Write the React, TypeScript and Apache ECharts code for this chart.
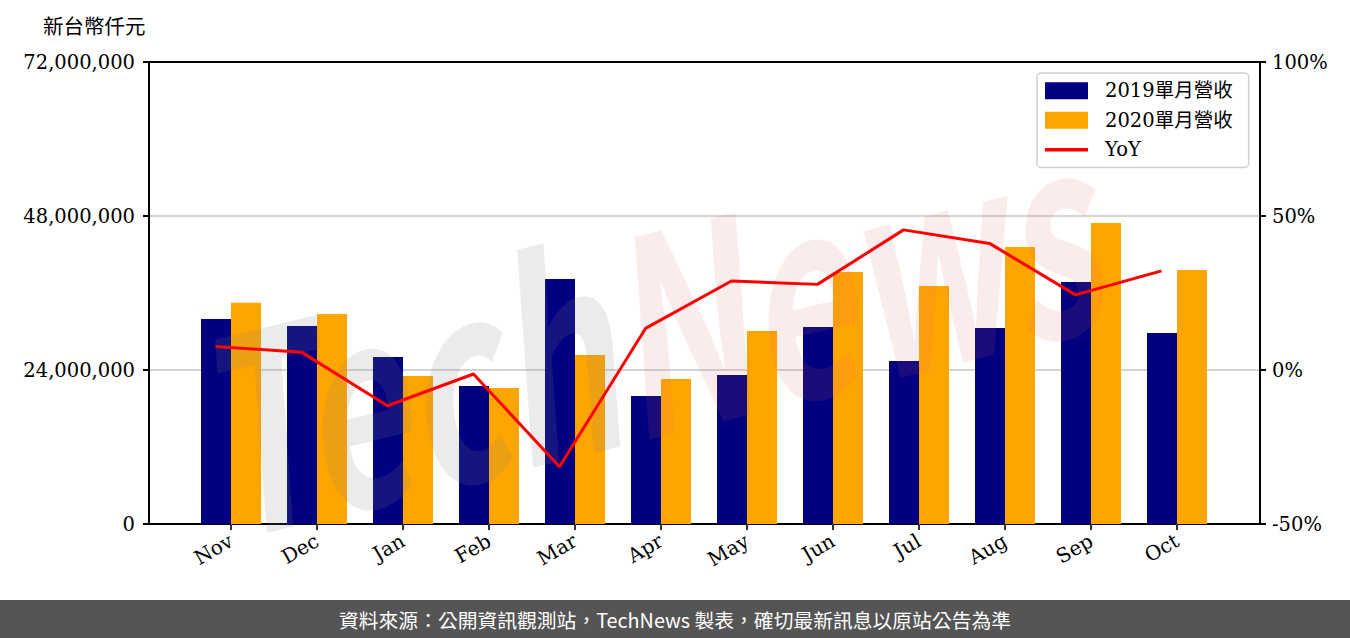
import React, { useEffect, useRef } from "react";
import * as echarts from "echarts";

const categories = ["Nov", "Dec", "Jan", "Feb", "Mar", "Apr", "May", "Jun", "Jul", "Aug", "Sep", "Oct"];
const revenue2019 = [31950000, 30860000, 26030000, 21510000, 38180000, 19950000, 23220000, 30700000, 25400000, 30550000, 37710000, 29770000];
const revenue2020 = [34490000, 32730000, 23060000, 21190000, 26340000, 22600000, 30080000, 39270000, 37090000, 43170000, 46910000, 39580000];
const yoyPercent = [7.6, 5.8, -11.6, -1.3, -31.4, 13.5, 28.9, 27.8, 45.5, 41.1, 24.4, 32.2];
const seriesNames = ["2019單月營收", "2020單月營收", "YoY"];
const unitLabel = "新台幣仟元";
const footerText = "資料來源：公開資訊觀測站，TechNews 製表，確切最新訊息以原站公告為準";

const SERIF = "'DejaVu Serif', 'Noto Sans CJK TC', serif";
const SANS = "'Noto Sans CJK TC', 'Noto Sans', sans-serif";

function fmtThousands(v: number): string {
  return Math.round(v).toString().replace(/\B(?=(\d{3})+(?!\d))/g, ",");
}

export default function App() {
  const ref = useRef<HTMLDivElement>(null);
  useEffect(() => {
    if (!ref.current) return;
    const chart = echarts.init(ref.current, null, { renderer: "svg" });
    const frameLine = { show: true, onZero: false, lineStyle: { color: "#000", width: 2 } };
    chart.setOption({
      animation: false,
      backgroundColor: "#ffffff",
      grid: [
        { left: 149, top: 62, width: 1111, height: 462 },
        { left: 188, top: 62, width: 1032, height: 462 },
        { left: 172.5, top: 62, width: 1032, height: 462 },
      ],
      legend: {
        data: [
          { name: seriesNames[0], icon: "rect" },
          { name: seriesNames[1], icon: "rect" },
          { name: seriesNames[2], icon: "path://M0,0 L43,0 L43,3.5 L0,3.5 Z" },
        ],
        orient: "vertical",
        left: 1037,
        top: 73,
        padding: [8, 16, 8, 8],
        itemWidth: 43,
        itemHeight: 17,
        itemGap: 10,
        backgroundColor: "#ffffff",
        borderColor: "#d0d0d0",
        borderWidth: 1.5,
        borderRadius: 4,
        textStyle: { fontFamily: SERIF, fontSize: 19.5, color: "#000", padding: [0, 0, 0, 12] },
      },
      xAxis: [
        {
          gridIndex: 0, type: "value", min: 0, max: 1, position: "bottom",
          axisLine: frameLine,
          axisTick: { show: false }, axisLabel: { show: false }, splitLine: { show: false },
        },
        {
          gridIndex: 0, type: "value", min: 0, max: 1, position: "top",
          axisLine: frameLine,
          axisTick: { show: false }, axisLabel: { show: false }, splitLine: { show: false },
        },
        {
          gridIndex: 1, type: "category", data: categories, position: "bottom",
          axisLine: { show: false },
          axisTick: { show: true, alignWithLabel: true, length: 6, lineStyle: { color: "#333", width: 2 } },
          axisLabel: { rotate: 30, fontFamily: SERIF, fontSize: 20, color: "#000", margin: 15 },
          splitLine: { show: false },
        },
        {
          gridIndex: 2, type: "category", data: categories, show: false,
        },
      ],
      yAxis: [
        {
          gridIndex: 0, type: "value", position: "left", min: 0, max: 72000000, interval: 24000000,
          axisLine: frameLine,
          axisTick: { show: true, length: 6, lineStyle: { color: "#000", width: 2 } },
          axisLabel: { fontFamily: SERIF, fontSize: 19.5, color: "#000", margin: 14, formatter: (v: number) => fmtThousands(v) },
          splitLine: { show: true, lineStyle: { color: "#d4d4d4", width: 2 } },
        },
        {
          gridIndex: 0, type: "value", position: "right", min: -50, max: 100, interval: 50,
          axisLine: frameLine,
          axisTick: { show: true, length: 6, lineStyle: { color: "#000", width: 2 } },
          axisLabel: { fontFamily: SERIF, fontSize: 19.5, color: "#000", margin: 12, formatter: "{value}%" },
          splitLine: { show: false },
        },
        { gridIndex: 1, type: "value", min: 0, max: 72000000, show: false },
        { gridIndex: 2, type: "value", min: -50, max: 100, show: false },
      ],
      series: [
        {
          name: seriesNames[0], type: "bar", xAxisIndex: 2, yAxisIndex: 2,
          data: revenue2019, barWidth: 30, barGap: "0%", z: 1,
          itemStyle: { color: "#000080" },
        },
        {
          name: seriesNames[1], type: "bar", xAxisIndex: 2, yAxisIndex: 2,
          data: revenue2020, barWidth: 30, barGap: "0%", z: 1,
          itemStyle: { color: "#ffa500" },
        },
        {
          name: seriesNames[2], type: "line", xAxisIndex: 3, yAxisIndex: 3,
          data: yoyPercent, symbol: "none", z: 5,
          lineStyle: { color: "#ff0000", width: 3 },
          itemStyle: { color: "#ff0000" },
        },
      ],
      graphic: [
        {
          type: "text", left: 43, top: 15, z: 10,
          style: { text: unitLabel, fontFamily: SANS, fontSize: 20.5, fill: "#000" },
        },
        {
          type: "text", x: 640, y: 320, rotation: 0.24, scaleX: 0.68, scaleY: 1, z: 3, silent: true,
          style: {
            text: "{a|Tech}{b|News}",
            rich: {
              a: { fontFamily: SANS, fontSize: 270, fontStyle: "italic", fontWeight: "bold", fill: "rgba(130,130,130,0.16)" },
              b: { fontFamily: SANS, fontSize: 270, fontStyle: "italic", fontWeight: "bold", fill: "rgba(220,100,100,0.12)" },
            },
            align: "center", verticalAlign: "middle",
          },
        },
        {
          type: "rect", left: 0, top: 600, z: 10,
          shape: { width: 1350, height: 38 },
          style: { fill: "#555555" },
        },
        {
          type: "text", x: 675, y: 619, z: 11,
          style: { text: footerText, fontFamily: SANS, fontSize: 19.8, fill: "#ffffff", align: "center", verticalAlign: "middle" },
        },
      ],
    });
    return () => chart.dispose();
  }, []);
  return <div ref={ref} style={{ position: "absolute", left: 0, top: 0, width: 1350, height: 638 }} />;
}
